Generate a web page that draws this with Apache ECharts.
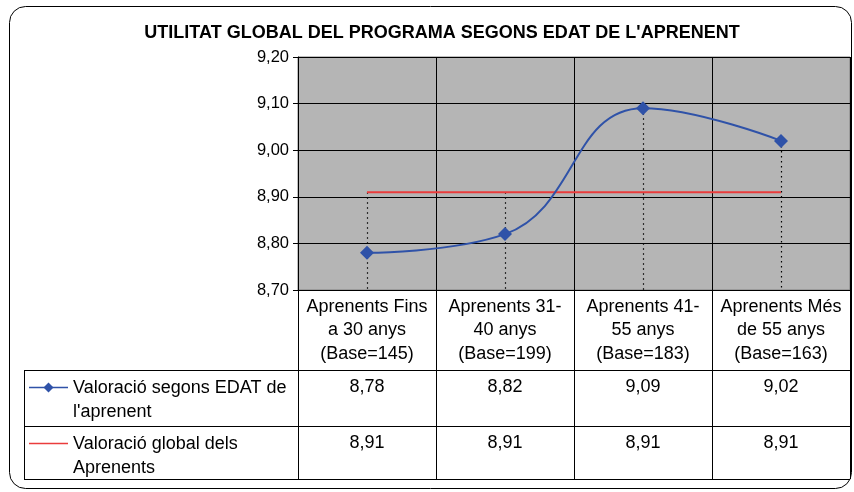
<!DOCTYPE html>
<html><head><meta charset="utf-8">
<script src="https://cdn.jsdelivr.net/npm/echarts@6/dist/echarts.min.js"></script>
<style>html,body{margin:0;padding:0;background:#fff}#c{width:854px;height:492px}</style>
</head><body><div id="c"></div>
<script>
const titleText = "UTILITAT GLOBAL DEL PROGRAMA SEGONS EDAT DE L'APRENENT";
const categories = ["Aprenents Fins\na 30 anys\n(Base=145)", "Aprenents 31-\n40 anys\n(Base=199)", "Aprenents 41-\n55 anys\n(Base=183)", "Aprenents Més\nde 55 anys\n(Base=163)"];
const seriesNames = ["Valoració segons EDAT de\nl'aprenent", "Valoració global dels\nAprenents"];
const valEdat = [8.78, 8.82, 9.09, 9.02];
const valGlobal = [8.91, 8.91, 8.91, 8.91];
const yMin = 8.7, yMax = 9.2, yStep = 0.1;

const FONT = "'Liberation Sans', Arial, sans-serif";
const fmt = v => v.toFixed(2).replace('.', ',');
const BLUE = '#2F52A8', RED = '#EA3C3C';
const FS = 18;

const G = {left: 298, right: 4, top: 57, bottom: 202};
const chart = echarts.init(document.getElementById('c'), null, {renderer: 'canvas'});

const dropData = categories.map((c, i) => [i, Math.max(valEdat[i], valGlobal[i])]);

chart.setOption({
  animation: false,
  backgroundColor: '#fff',
  title: {text: titleText, left: 437, textAlign: 'center', top: 19,
    textStyle: {fontFamily: FONT, fontSize: 18, fontWeight: 'bold', color: '#000'}},
  grid: {left: G.left, right: G.right, top: G.top, bottom: G.bottom, show: true,
    backgroundColor: '#B5B5B5', borderColor: '#7f7f7f', borderWidth: 1},
  xAxis: {type: 'category', data: categories, boundaryGap: true,
    axisLine: {lineStyle: {color: '#000', width: 1}},
    axisTick: {show: true, length: 189, lineStyle: {color: '#000'}},
    splitLine: {show: true, lineStyle: {color: '#000', width: 1}},
    axisLabel: {fontFamily: FONT, fontSize: FS, color: '#000', lineHeight: 23.5, margin: 5, interval: 0, align: 'center'}},
  yAxis: {type: 'value', min: yMin, max: yMax, interval: yStep,
    axisLine: {show: true, lineStyle: {color: '#000'}},
    axisTick: {show: true, length: 5, lineStyle: {color: '#000'}},
    splitLine: {show: true, lineStyle: {color: '#000', width: 1}},
    axisLabel: {formatter: v => fmt(v), fontFamily: FONT, fontSize: 16.5, color: '#000', margin: 9}},
  series: [
    {type: 'custom', name: 'drop', data: dropData, z: 1, silent: true,
      renderItem: (params, api) => {
        const p1 = api.coord([api.value(0), api.value(1)]);
        const p2 = api.coord([api.value(0), yMin]);
        return {type: 'line', shape: {x1: Math.round(p1[0]) + 0.5, y1: p1[1], x2: Math.round(p2[0]) + 0.5, y2: p2[1]},
          style: {stroke: '#000', lineWidth: 1.2, lineDash: [1.5, 3.5]}};
      }},
    {type: 'line', name: seriesNames[1], data: valGlobal, symbol: 'none', z: 3,
      lineStyle: {color: RED, width: 2}},
    {type: 'line', name: seriesNames[0], data: valEdat, smooth: 0.45, z: 4,
      symbol: 'diamond', symbolSize: 14,
      itemStyle: {color: BLUE}, lineStyle: {color: BLUE, width: 2}}
  ]
});

// Data table below the chart
function buildTable() {
  const els = [];
  const x0 = 24, xR = 850, yTop = 370, yMid = 426, yBot = 479;
  const line = (x1, y1, x2, y2) => ({type: 'line', shape: {x1, y1, x2, y2}, style: {stroke: '#000', lineWidth: 1}, silent: true});
  els.push(line(x0, yTop + 0.5, xR, yTop + 0.5));
  els.push(line(x0, yMid + 0.5, xR, yMid + 0.5));
  els.push(line(x0, yBot + 0.5, xR, yBot + 0.5));
  els.push(line(x0 + 0.5, yTop, x0 + 0.5, yBot + 1));
  const rows = [{vals: valEdat, y: yTop}, {vals: valGlobal, y: yMid}];
  rows.forEach((r, ri) => {
    r.vals.forEach((v, i) => {
      const px = chart.convertToPixel({xAxisIndex: 0}, i);
      els.push({type: 'text', x: px, y: r.y + 17, silent: true,
        style: {text: fmt(v), fontFamily: FONT, fontSize: FS, fill: '#000', align: 'center', verticalAlign: 'middle'}});
    });
    els.push({type: 'text', x: 73, y: r.y + 6, silent: true,
      style: {text: seriesNames[ri], fontFamily: FONT, fontSize: FS, lineHeight: 24, fill: '#000', align: 'left', verticalAlign: 'top'}});
  });
  // legend keys
  els.push({type: 'line', shape: {x1: 29, y1: yTop + 17.5, x2: 68, y2: yTop + 17.5}, style: {stroke: BLUE, lineWidth: 1.5}, silent: true});
  els.push({type: 'polygon', shape: {points: [[48.5, yTop + 12.5], [53.5, yTop + 17.5], [48.5, yTop + 22.5], [43.5, yTop + 17.5]]}, style: {fill: BLUE}, silent: true});
  els.push({type: 'line', shape: {x1: 29, y1: yMid + 17.5, x2: 68, y2: yMid + 17.5}, style: {stroke: RED, lineWidth: 1.5}, silent: true});
  // outer rounded frame
  els.push({type: 'rect', shape: {x: 9.5, y: 6.5, width: 842, height: 482, r: 16}, style: {fill: 'none', stroke: '#000', lineWidth: 1}, silent: true, z: 10});
  chart.setOption({graphic: {elements: els}});
}
buildTable();
</script></body></html>
